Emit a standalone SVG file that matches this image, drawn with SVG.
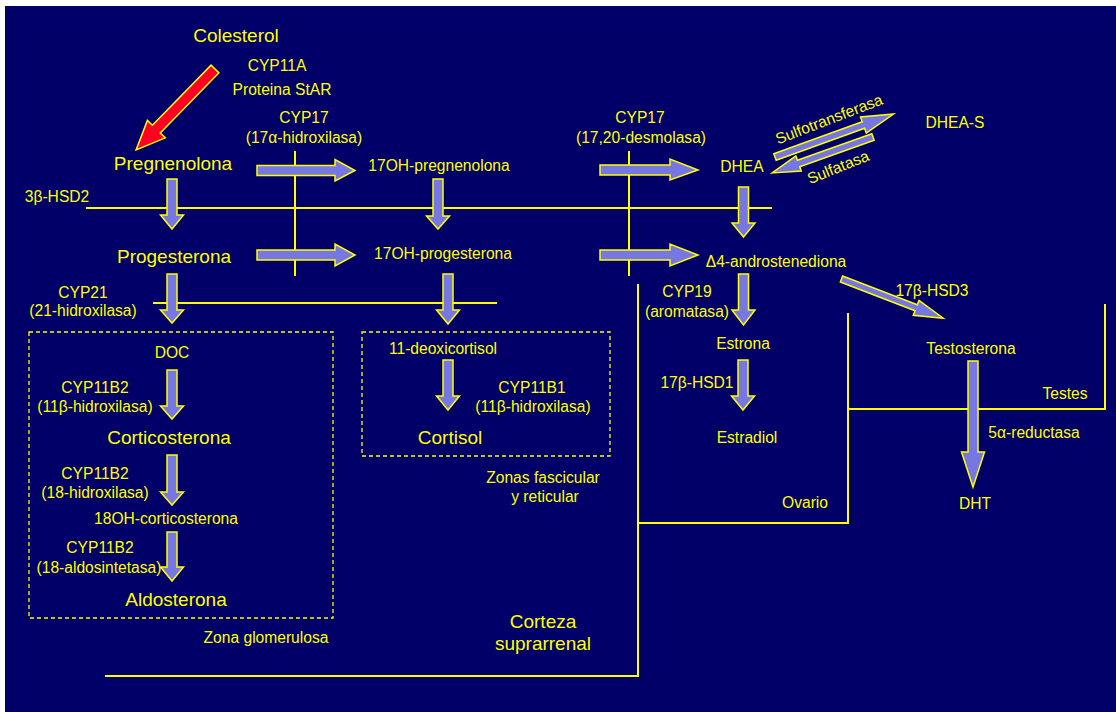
<svg xmlns="http://www.w3.org/2000/svg" width="1116" height="712" viewBox="0 0 1116 712">
<style>
text{font-family:"Liberation Sans",Arial,sans-serif;fill:#FFFF00;text-anchor:middle}
.s{font-size:15.6px}
.l{font-size:19px}
.ar{fill:#7777E4;stroke:#FFFF00;stroke-width:1.5;stroke-linejoin:miter}
.red{fill:#FF0022;stroke:#FFFF00;stroke-width:1.5}
.ln{stroke:#FFFF00;stroke-width:2;fill:none}
.box{stroke:#FFFF00;stroke-width:1.3;fill:none;stroke-dasharray:4 3}
</style>
<rect x="0" y="0" width="1116" height="712" fill="#FFFFFF"/>
<rect x="5" y="6" width="1111" height="706" fill="#000068"/>

<g id="regions">
<rect class="box" x="29" y="332" width="304" height="286"/>
<rect class="box" x="362" y="332" width="248" height="124"/>
</g>

<g id="connectors">
<line class="ln" x1="86" y1="208" x2="772" y2="208"/>
<line class="ln" x1="295" y1="151" x2="295" y2="276"/>
<line class="ln" x1="153" y1="303" x2="497" y2="303"/>
<line class="ln" x1="629" y1="151" x2="629" y2="276"/>
<polyline class="ln" points="638,284 638,676 105,676"/>
<polyline class="ln" points="848,313 848,523 638,523"/>
<polyline class="ln" points="848,409 1105,409 1105,304"/>

<polygon class="red" transform="translate(215,69) rotate(134.3)" points="0,-5.5 84,-5.5 84,-12.5 113,0 84,12.5 84,5.5 0,5.5"/>

<polygon class="ar" points="167,179 177,179 177,215 183.5,215 172,229 160.5,215 167,215"/>
<polygon class="ar" points="167,274 177,274 177,310 183.5,310 172,323 160.5,310 167,310"/>
<polygon class="ar" points="433,179 443,179 443,216 449.5,216 438,229 426.5,216 433,216"/>
<polygon class="ar" points="443,274 453,274 453,310 459.5,310 448,324 436.5,310 443,310"/>
<polygon class="ar" points="443,360 453,360 453,396 459.5,396 448,410 436.5,396 443,396"/>
<polygon class="ar" points="167,370 177,370 177,406 183.5,406 172,419 160.5,406 167,406"/>
<polygon class="ar" points="167,455 177,455 177,492 183.5,492 172,505 160.5,492 167,492"/>
<polygon class="ar" points="167,532 177,532 177,567 183.5,567 172,581 160.5,567 167,567"/>
<polygon class="ar" points="738.5,187 748.5,187 748.5,223 755,223 743.5,237 732,223 738.5,223"/>
<polygon class="ar" points="738.5,274 748.5,274 748.5,310 755,310 743.5,325 732,310 738.5,310"/>
<polygon class="ar" points="738,360 748,360 748,396 754.5,396 743,410 731.5,396 738,396"/>
<polygon class="ar" points="968,361 978,361 978,452 984.5,452 973,487 961.5,452 968,452"/>

<polygon class="ar" points="257,165.5 335,165.5 335,159.5 355,170.5 335,181 335,175.5 257,175.5"/>
<polygon class="ar" points="257,250 335,250 335,244 355,255 335,266 335,260 257,260"/>
<polygon class="ar" points="600,165 670,165 670,159 698,170 670,180 670,175 600,175"/>
<polygon class="ar" points="600,250 670,250 670,244 698,255 670,266 670,260 600,260"/>

<polygon class="ar" transform="translate(841.5,279) rotate(21.1)" points="0,-3.2 80,-3.2 80,-8 109,0 80,8 80,3.2 0,3.2"/>
<polygon class="ar" transform="translate(775,157) rotate(-19.9)" points="0,-3.5 94,-3.5 94,-8.5 126,0 94,8.5 94,3.5 0,3.5"/>
<polygon class="ar" transform="translate(873,137) rotate(160.4)" points="0,-3.5 79,-3.5 79,-8 107,0 79,8 79,3.5 0,3.5"/>
</g>

<g id="n-colesterol"><text class="l" x="236" y="42">Colesterol</text></g>
<g id="l-cyp11a"><text class="s" x="277" y="71">CYP11A</text><text class="s" x="282" y="95">Proteina StAR</text></g>
<g id="l-cyp17a"><text class="s" x="304" y="122.5">CYP17</text><text class="s" x="304" y="142.5">(17α-hidroxilasa)</text></g>
<g id="n-pregnenolona"><text class="l" x="173" y="170">Pregnenolona</text></g>
<g id="l-3bhsd2"><text class="s" x="57" y="201.5">3β-HSD2</text></g>
<g id="n-progesterona"><text class="l" x="174" y="262.5">Progesterona</text></g>
<g id="l-cyp21"><text class="s" x="83" y="297.5">CYP21</text><text class="s" x="83" y="316">(21-hidroxilasa)</text></g>
<g id="n-17ohpreg"><text class="s" x="439" y="170.5">17OH-pregnenolona</text></g>
<g id="n-17ohprog"><text class="s" x="443" y="258.5">17OH-progesterona</text></g>
<g id="n-11deoxi"><text class="s" x="443" y="353.5">11-deoxicortisol</text></g>
<g id="l-cyp11b1"><text class="s" x="532" y="392.5">CYP11B1</text><text class="s" x="533" y="411.5">(11β-hidroxilasa)</text></g>
<g id="n-cortisol"><text class="l" x="450" y="444">Cortisol</text></g>
<g id="l-zonasfasc"><text class="s" x="543" y="482.5">Zonas fascicular</text><text class="s" x="545" y="501.5">y reticular</text></g>
<g id="l-cyp17b"><text class="s" x="640" y="122.5">CYP17</text><text class="s" x="641" y="142.5">(17,20-desmolasa)</text></g>
<g id="n-dhea"><text class="s" x="742" y="171.5">DHEA</text></g>
<g id="n-dheas"><text class="s" x="955" y="127.5">DHEA-S</text></g>
<g id="l-sulfo"><text class="s" transform="translate(829,119) rotate(-21)" x="0" y="5.5">Sulfotransferasa</text></g>
<g id="l-sulfa"><text class="s" transform="translate(838,167) rotate(-22)" x="0" y="5.5">Sulfatasa</text></g>
<g id="n-d4"><text class="s" x="776" y="266.5">Δ4-androstenediona</text></g>
<g id="l-cyp19"><text class="s" x="687" y="296.5">CYP19</text><text class="s" x="687" y="316.5">(aromatasa)</text></g>
<g id="l-17bhsd3"><text class="s" x="932" y="295.5">17β-HSD3</text></g>
<g id="n-estrona"><text class="s" x="743" y="348.5">Estrona</text></g>
<g id="l-17bhsd1"><text class="s" x="697" y="387.5">17β-HSD1</text></g>
<g id="n-estradiol"><text class="s" x="747" y="442.5">Estradiol</text></g>
<g id="n-testosterona"><text class="s" x="971" y="353.5">Testosterona</text></g>
<g id="l-testes"><text class="s" x="1065" y="398.5">Testes</text></g>
<g id="l-5ared"><text class="s" x="1034" y="437.5">5α-reductasa</text></g>
<g id="n-dht"><text class="s" x="975" y="508.5">DHT</text></g>
<g id="l-ovario"><text class="s" x="805" y="507.5">Ovario</text></g>
<g id="n-doc"><text class="s" x="172" y="357.5">DOC</text></g>
<g id="l-cyp11b2a"><text class="s" x="95" y="392.5">CYP11B2</text><text class="s" x="95" y="411.5">(11β-hidroxilasa)</text></g>
<g id="n-corticosterona"><text class="l" x="169" y="444">Corticosterona</text></g>
<g id="l-cyp11b2b"><text class="s" x="95" y="478.5">CYP11B2</text><text class="s" x="95" y="497.5">(18-hidroxilasa)</text></g>
<g id="n-18oh"><text class="s" x="166" y="523.5">18OH-corticosterona</text></g>
<g id="l-cyp11b2c"><text class="s" x="100" y="552.5">CYP11B2</text><text class="s" x="99" y="572.5">(18-aldosintetasa)</text></g>
<g id="n-aldosterona"><text class="l" x="176" y="606">Aldosterona</text></g>
<g id="l-zonaglom"><text class="s" x="266" y="642.5">Zona glomerulosa</text></g>
<g id="l-corteza"><text class="l" x="543" y="628">Corteza</text><text class="l" x="543" y="650">suprarrenal</text></g>
</svg>
